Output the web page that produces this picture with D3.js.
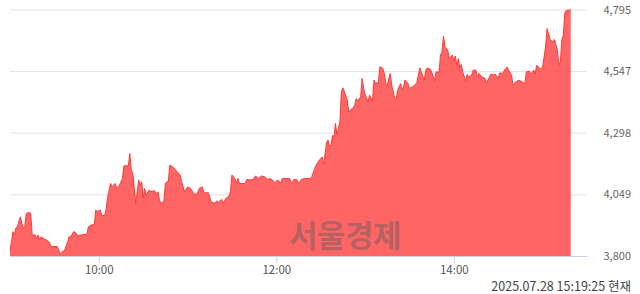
<!DOCTYPE html>
<html>
<head>
<meta charset="utf-8">
<script src="https://d3js.org/d3.v7.min.js"></script>
<style>
  html, body { margin: 0; padding: 0; background: #fff; }
  svg { display: block; }
  .axis text { font-family: "Noto Sans CJK KR", "Noto Sans", sans-serif; }
</style>
</head>
<body>
<div id="holder"></div>
<script>
  // Data (KST, 1-minute-ish samples)
  const times = [
    '09:00','09:01','09:02','09:03','09:04','09:05','09:07','09:08','09:09','09:10',
    '09:11','09:13','09:14','09:15','09:17','09:18','09:19','09:20','09:21','09:23',
    '09:26','09:28','09:30','09:32','09:34','09:35','09:37','09:39','09:40','09:41',
    '09:43','09:44','09:46','09:48','09:52','09:53','09:55','09:57','09:58','09:59',
    '10:01','10:02','10:04','10:05','10:06','10:08','10:09','10:11','10:12','10:14',
    '10:16','10:17','10:20','10:21','10:22','10:23','10:25','10:26','10:27','10:28',
    '10:29','10:30','10:31','10:32','10:34','10:36','10:37','10:39','10:40','10:41',
    '10:42','10:44','10:45','10:46','10:47','10:48','10:50','10:53','10:55','10:56',
    '10:58','11:00','11:02','11:04','11:06','11:08','11:10','11:11','11:14','11:16',
    '11:18','11:20','11:21','11:23','11:24','11:26','11:28','11:29','11:30','11:32',
    '11:33','11:34','11:35','11:39','11:40','11:42','11:44','11:46','11:48','11:50',
    '11:52','11:54','11:56','11:57','11:59','12:01','12:03','12:04','12:07','12:09',
    '12:10','12:12','12:14','12:15','12:17','12:19','12:23','12:24','12:26','12:28',
    '12:30','12:31','12:32','12:34','12:35','12:36','12:37','12:38','12:39','12:40',
    '12:41','12:43','12:44','12:45','12:46','12:48','12:49','12:50','12:52','12:53',
    '12:54','12:55','12:57','12:58','12:59','13:00','13:02','13:03','13:05','13:06',
    '13:07','13:09','13:10','13:11','13:12','13:13','13:14','13:15','13:17','13:18',
    '13:20','13:21','13:22','13:24','13:25','13:26','13:27','13:29','13:30','13:32',
    '13:34','13:35','13:37','13:38','13:40','13:41','13:42','13:44','13:45','13:47',
    '13:48','13:50','13:51','13:52','13:53','13:54','13:55','13:56','13:57','13:59',
    '14:00','14:01','14:02','14:03','14:04','14:05','14:06','14:08','14:09','14:10',
    '14:12','14:13','14:15','14:16','14:17','14:19','14:21','14:22','14:24','14:25',
    '14:27','14:28','14:30','14:31','14:33','14:35','14:36','14:37','14:39','14:40',
    '14:42','14:44','14:46','14:48','14:49','14:51','14:52','14:54','14:55','14:56',
    '14:58','14:59','15:00','15:02','15:03','15:04','15:05','15:07','15:08','15:10',
    '15:11','15:12','15:13','15:14','15:15','15:16','15:18','15:19'
  ];
  const prices = [
    3824,3858,3898,3885,3913,3918,3958,3932,3913,3918,
    3972,3976,3972,3885,3885,3871,3885,3865,3878,3869,
    3860,3838,3838,3838,3807,3815,3824,3858,3878,3878,
    3898,3896,3882,3885,3888,3918,3925,3928,3986,3979,
    3986,3963,3963,3990,4039,4093,4079,4093,4075,4086,
    4113,4164,4164,4214,4147,4134,4013,4059,4107,4086,
    4100,4033,4073,4046,4066,4059,4066,4053,4059,4026,
    4013,4019,4093,4100,4100,4167,4160,4140,4127,4100,
    4059,4079,4073,4053,4046,4073,4079,4055,4055,4019,
    4013,4023,4015,4029,4013,4033,4042,4059,4127,4113,
    4093,4113,4093,4093,4109,4107,4109,4123,4113,4123,
    4120,4109,4113,4109,4096,4107,4093,4113,4113,4113,
    4096,4109,4107,4093,4109,4113,4113,4120,4154,4178,
    4194,4200,4170,4259,4268,4241,4248,4288,4281,4335,
    4288,4344,4463,4479,4463,4429,4380,4389,4398,4409,
    4436,4425,4442,4517,4476,4452,4422,4449,4425,4510,
    4497,4501,4563,4563,4557,4537,4497,4490,4537,4490,
    4436,4430,4469,4496,4469,4483,4510,4497,4476,4483,
    4492,4500,4559,4543,4510,4550,4559,4554,4543,4506,
    4543,4543,4611,4624,4688,4644,4638,4627,4597,4611,
    4586,4607,4570,4597,4559,4573,4543,4506,4533,4523,
    4530,4550,4550,4523,4537,4523,4517,4499,4521,4534,
    4530,4534,4517,4539,4537,4557,4563,4550,4530,4490,
    4503,4510,4503,4496,4543,4547,4534,4550,4534,4570,
    4557,4557,4563,4644,4718,4698,4674,4664,4674,4631,
    4570,4584,4674,4691,4781,4792,4792,4795
  ];
  const priceTicks = [3800, 4049, 4298, 4547, 4795];
  const timeTicks = ['10:00', '12:00', '14:00'];
  const stamp = '2025.07.28 15:19:25 현재';
  const watermark = '서울경제';

  const w = 640, h = 294;
  const plotLeft = 10, plotRight = 587, plotTop = 9.5, plotBottom = 256;

  const parse = d3.timeParse('%H:%M');
  const data = times.map((t, i) => ({ t: parse(t), v: prices[i] }));

  const x = d3.scaleTime()
    .domain([parse('09:00'), parse('15:30')])
    .range([plotLeft, plotRight]);
  const y = d3.scaleLinear()
    .domain([3800, 4795])
    .range([plotBottom, plotTop]);

  const svg = d3.select('#holder').append('svg')
    .attr('width', w)
    .attr('height', h);

  // gridlines + right labels
  const yAxis = d3.axisRight(y)
    .tickValues(priceTicks)
    .tickSize(-(plotRight - plotLeft))
    .tickFormat(d3.format(','));
  const gy = svg.append('g')
    .attr('class', 'axis')
    .attr('transform', 'translate(' + plotRight + ',0)')
    .call(yAxis);
  gy.select('.domain').remove();
  gy.selectAll('line').attr('stroke', '#e3e3e3');
  gy.selectAll('text')
    .attr('x', 631 - plotRight)
    .attr('text-anchor', 'end')
    .attr('fill', '#666')
    .style('font-size', '11px');

  // area
  const area = d3.area()
    .x((d) => x(d.t))
    .y0(plotBottom)
    .y1((d) => y(d.v));
  const line = d3.line()
    .x((d) => x(d.t))
    .y((d) => y(d.v));

  svg.append('path')
    .datum(data)
    .attr('d', area)
    .attr('fill', '#ff4646')
    .attr('fill-opacity', 0.83);
  svg.append('path')
    .datum(data)
    .attr('d', line)
    .attr('fill', 'none')
    .attr('stroke', '#ff3a3a')
    .attr('stroke-width', 1);

  // x axis
  const xAxis = d3.axisBottom(x)
    .tickValues(timeTicks.map(parse))
    .tickSize(7)
    .tickSizeOuter(0)
    .tickFormat(d3.timeFormat('%H:%M'));
  const gx = svg.append('g')
    .attr('class', 'axis')
    .attr('transform', 'translate(0,' + plotBottom + ')')
    .call(xAxis);
  gx.select('.domain').attr('stroke', '#c8d4e6');
  gx.selectAll('line').attr('stroke', '#c8d4e6');
  gx.selectAll('text')
    .attr('fill', '#555')
    .attr('y', 10)
    .style('font-size', '11.5px');

  // watermark
  svg.append('text')
    .attr('x', 345)
    .attr('y', 247)
    .attr('text-anchor', 'middle')
    .attr('fill', '#5a5a5a')
    .attr('fill-opacity', 0.45)
    .style('font-family', '"Noto Sans CJK KR", sans-serif')
    .style('font-weight', 'bold')
    .style('font-size', '31px')
    .style('letter-spacing', '-0.5px')
    .text(watermark);

  // timestamp
  svg.append('text')
    .attr('x', 631)
    .attr('y', 291)
    .attr('text-anchor', 'end')
    .attr('fill', '#444')
    .style('font-family', '"Noto Sans CJK KR", sans-serif')
    .style('font-size', '12.5px')
    .text(stamp);
</script>
</body>
</html>
